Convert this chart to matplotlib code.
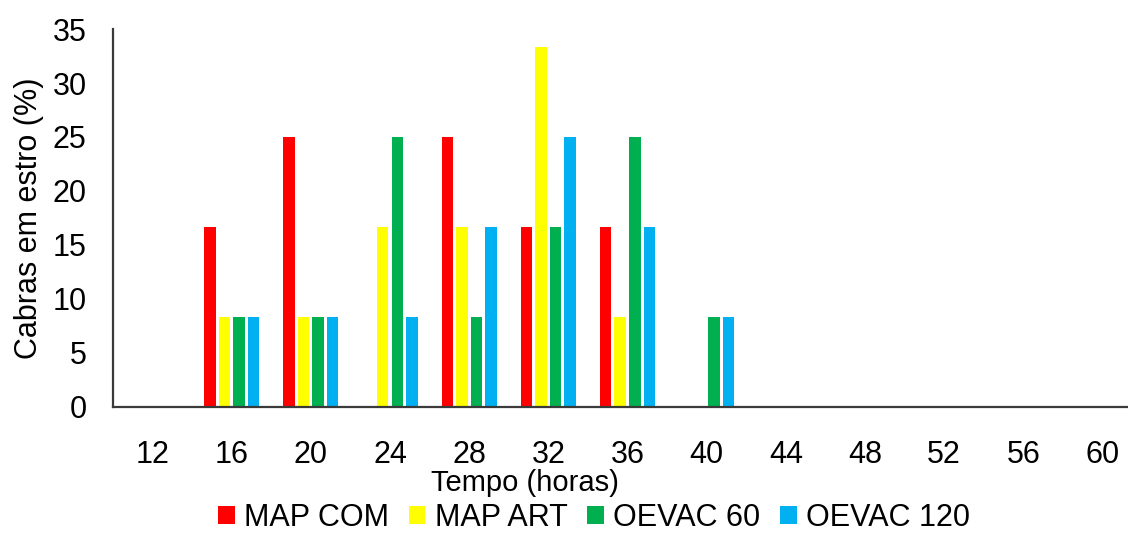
import matplotlib
matplotlib.use('Agg')
import matplotlib.pyplot as plt
import numpy as np

plt.rcParams['font.family'] = ['Liberation Sans', 'DejaVu Sans']

horas = ['12', '16', '20', '24', '28', '32', '36', '40', '44', '48', '52', '56', '60']
map_com = [0, 16.7, 25, 0, 25, 16.7, 16.7, 0, 0, 0, 0, 0, 0]
map_art = [0, 8.3, 8.3, 16.7, 16.7, 33.3, 8.3, 0, 0, 0, 0, 0, 0]
oevac_60 = [0, 8.3, 8.3, 25, 8.3, 16.7, 25, 8.3, 0, 0, 0, 0, 0]
oevac_120 = [0, 8.3, 8.3, 8.3, 16.7, 25, 16.7, 8.3, 0, 0, 0, 0, 0]

series = [('MAP COM', map_com, '#FF0000'),
          ('MAP ART', map_art, '#FFFF00'),
          ('OEVAC 60', oevac_60, '#00B050'),
          ('OEVAC 120', oevac_120, '#00B0F0')]

W, H = 1128, 533
fig = plt.figure(figsize=(W / 100, H / 100), dpi=100)
ax = fig.add_axes([113 / W, 1 - 407 / H, (1142 - 113) / W, (407 - 29) / H])

x = np.arange(len(horas))
step = 0.184
width = 0.145
for i, (name, vals, col) in enumerate(series):
    ax.bar(x + (i - 1.5) * step, vals, width, color=col, label=name)

ax.set_xlim(-0.5, len(horas) - 0.5)
ax.set_ylim(0, 35)
ax.set_yticks(range(0, 36, 5))
ax.set_xticks(x)
ax.set_xticklabels(horas)
ax.tick_params(axis='both', length=0, labelsize=22)
ax.tick_params(axis='x', pad=24)
ax.tick_params(axis='y', pad=19)
for s in ['top', 'right']:
    ax.spines[s].set_visible(False)
for s in ['left', 'bottom']:
    ax.spines[s].set_color('#3a3a3a')
    ax.spines[s].set_linewidth(1.6)

ax.set_ylabel('Cabras em estro (%)', fontsize=22, labelpad=6)
fig.text(525 / W, 1 - 483 / H, 'Tempo (horas)', fontsize=21, ha='center', va='center')

fig.legend(loc='center', bbox_to_anchor=(594 / W, 1 - 518 / H), ncol=4, frameon=False,
           fontsize=22, handlelength=0.55, handleheight=0.55, handletextpad=0.3,
           columnspacing=0.65, borderpad=0)

fig.savefig('out.png', dpi=100)
